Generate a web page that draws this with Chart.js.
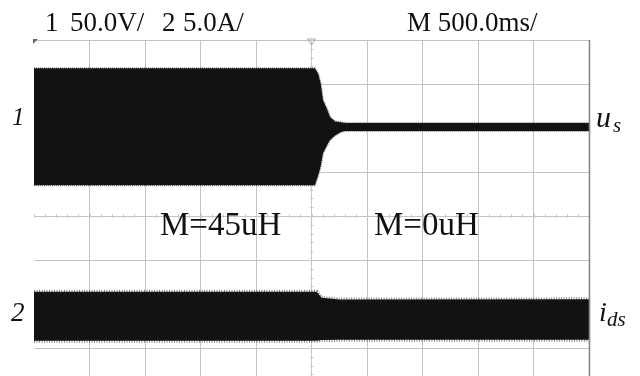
<!DOCTYPE html>
<html>
<head>
<meta charset="utf-8">
<script src="https://cdn.jsdelivr.net/npm/chart.js@4/dist/chart.umd.min.js"></script>
<style>
  html, body { margin: 0; padding: 0; background: #fff; overflow: hidden; }
  #scope { position: relative; width: 640px; height: 376px; overflow: hidden; background: #fff; }
  #scope canvas { position: absolute; left: 0; top: 0; }
  .t { position: absolute; font-family: "Liberation Serif", "Times New Roman", serif; color: #111; line-height: 1; white-space: nowrap; }
  .i { font-style: italic; }
</style>
</head>
<body>
<div id="scope">
  <canvas id="c" width="640" height="400"></canvas>
  <span class="t" style="left:45px;top:9px;font-size:27px">1</span>
  <span class="t" style="left:70px;top:9px;font-size:27px">50.0V/</span>
  <span class="t" style="left:162px;top:9px;font-size:27px">2</span>
  <span class="t" style="left:183px;top:9px;font-size:27px">5.0A/</span>
  <span class="t" style="left:407px;top:9px;font-size:27px">M 500.0ms/</span>
  <span class="t" style="left:160px;top:208px;font-size:33px">M=45uH</span>
  <span class="t" style="left:374px;top:208px;font-size:33px">M=0uH</span>
  <span class="t i" style="left:12px;top:104px;font-size:25px">1</span>
  <span class="t i" style="left:11px;top:299px;font-size:27px">2</span>
  <span class="t i" style="left:596px;top:102px;font-size:30px">u</span>
  <span class="t i" style="left:613px;top:115px;font-size:21px">s</span>
  <span class="t i" style="left:599px;top:298px;font-size:28px">i</span>
  <span class="t i" style="left:607px;top:309px;font-size:21px">ds</span>
</div>
<script>
// Horizontal time base: 500 ms per division, trigger at t = 0 (screen centre)
const timeTicks = [-2500, -2000, -1500, -1000, -500, 0, 500, 1000, 1500, 2000, 2500];

// Channel 1: envelope of u_s (V), 50 V/div
const usTime  = [-2500, 31, 61, 83, 104, 137, 167, 212, 266, 302, 2500];
const usUpper = [66.5, 66.5, 60, 49, 30, 21, 11, 6, 5, 4.3, 4.3];
const usLower = [-66.5, -66.5, -55, -45, -30, -22, -15, -10, -6, -5, -4.8];

// Channel 2: envelope of i_ds (A), 5 A/div
const idsTime  = [-2500, 47, 92, 256, 2500];
const idsUpper = [2.78, 2.78, 2.1, 1.9, 1.93];
const idsLower = [-2.78, -2.78, -2.7, -2.67, -2.67];

// Vertical settings: volts/amps per division and ground marker position (divisions from centre)
const voltsPerDiv = 50, ampsPerDiv = 5;
const ch1Ground = 2.03, ch2Ground = -2.28;
const divisions = 4; // half-height of the screen in divisions

const pts = (xs, ys) => xs.map((x, i) => ({ x, y: ys[i] }));

const GRID = '#c4c4c4';
const TRACE = '#121212';

// Centre-line minor ticks, trigger marker and frame edge
const scopeDecor = {
  id: 'scopeDecor',
  beforeDatasetsDraw(chart) {
    const { ctx, scales } = chart;
    const xs = scales.x, g = scales.g;
    const cx = xs.getPixelForValue(0), cy = g.getPixelForValue(0);
    ctx.save();
    ctx.strokeStyle = '#cdcdcd';
    ctx.lineWidth = 1;
    ctx.beginPath();
    for (let v = -divisions; v <= divisions; v += 0.2) {
      const y = Math.round(g.getPixelForValue(v)) + 0.5;
      ctx.moveTo(cx - 2, y); ctx.lineTo(cx + 2, y);
    }
    for (let t = -2500; t <= 2500; t += 100) {
      const x = Math.round(xs.getPixelForValue(t)) + 0.5;
      ctx.moveTo(x, cy - 2); ctx.lineTo(x, cy + 2);
    }
    ctx.stroke();
    ctx.restore();
  },
  afterDraw(chart) {
    const { ctx, scales, chartArea } = chart;
    const cx = scales.x.getPixelForValue(0);
    ctx.save();
    // trigger position marker
    ctx.strokeStyle = '#a8a8a8';
    ctx.lineWidth = 1;
    ctx.beginPath();
    ctx.moveTo(cx - 4, chartArea.top - 1);
    ctx.lineTo(cx + 4, chartArea.top - 1);
    ctx.lineTo(cx, chartArea.top + 5);
    ctx.closePath();
    ctx.stroke();
    // corner mark
    ctx.fillStyle = '#666';
    ctx.beginPath();
    ctx.moveTo(chartArea.left - 1, chartArea.top - 1);
    ctx.lineTo(chartArea.left + 4, chartArea.top - 1);
    ctx.lineTo(chartArea.left - 1, chartArea.top + 4);
    ctx.closePath();
    ctx.fill();
    // right frame edge
    ctx.strokeStyle = '#858585';
    ctx.lineWidth = 1.6;
    ctx.beginPath();
    ctx.moveTo(chartArea.right + 0.5, chartArea.top);
    ctx.lineTo(chartArea.right + 0.5, chartArea.bottom);
    ctx.stroke();
    ctx.restore();
  }
};

const edge = (axis, data, fill, width, dash) => ({
  data, yAxisID: axis, fill,
  backgroundColor: TRACE,
  borderColor: 'rgba(35,35,35,0.55)',
  borderWidth: width,
  borderDash: dash,
  pointRadius: 0,
  tension: 0
});

new Chart(document.getElementById('c'), {
  type: 'line',
  data: {
    datasets: [
      edge('yU', pts(usTime, usUpper), '+1', 2, [1, 1]),
      edge('yU', pts(usTime, usLower), false, 2, [1, 1]),
      edge('yI', pts(idsTime, idsUpper), '+1', 4, [1, 1.5]),
      edge('yI', pts(idsTime, idsLower), false, 4, [1, 1.5])
    ]
  },
  options: {
    responsive: false,
    animation: false,
    events: [],
    layout: { padding: { left: 34, top: 40, right: 51, bottom: 8 } },
    plugins: { legend: { display: false }, tooltip: { enabled: false }, filler: { propagate: false } },
    scales: {
      x: {
        type: 'linear', min: timeTicks[0], max: timeTicks[timeTicks.length - 1],
        afterBuildTicks: s => { s.ticks = timeTicks.map(v => ({ value: v })); },
        ticks: { display: false },
        border: { display: false },
        grid: {
          drawTicks: false,
          color: c => (c.index === 0 || c.index === timeTicks.length - 1) ? 'rgba(0,0,0,0)' : GRID,
          lineWidth: 1
        },
        afterFit: s => { s.height = 0; }
      },
      g: {
        type: 'linear', position: 'left', min: -divisions, max: divisions,
        ticks: { display: false, stepSize: 1 },
        border: { display: false },
        grid: { drawTicks: false, color: GRID, lineWidth: 1 },
        afterFit: s => { s.width = 0; }
      },
      yU: {
        type: 'linear', display: false,
        min: (-divisions - ch1Ground) * voltsPerDiv,
        max: (divisions - ch1Ground) * voltsPerDiv
      },
      yI: {
        type: 'linear', display: false,
        min: (-divisions - ch2Ground) * ampsPerDiv,
        max: (divisions - ch2Ground) * ampsPerDiv
      }
    }
  },
  plugins: [scopeDecor]
});
</script>
</body>
</html>
